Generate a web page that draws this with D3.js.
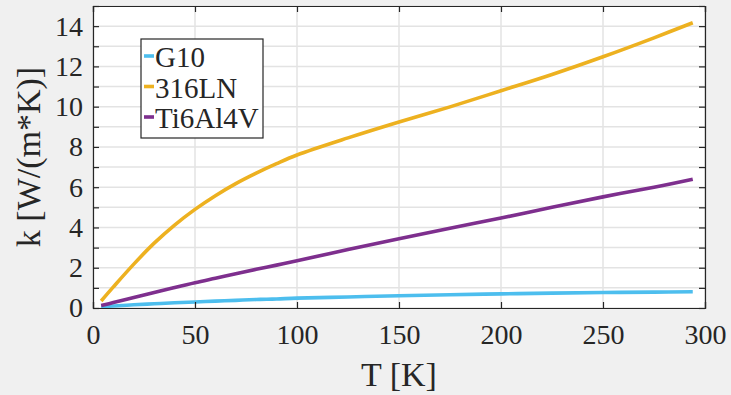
<!DOCTYPE html>
<html>
<head>
<meta charset="utf-8">
<script src="https://cdn.jsdelivr.net/npm/d3@7"></script>
<style>
  body { margin: 0; background: #f0f0f0; }
  svg { display: block; }
  text { font-family: "Liberation Serif", "Times New Roman", serif; fill: #262626; }
</style>
</head>
<body>
<div id="chart"></div>
<script>
// temperature [K]
const temps = [4, 10, 20, 30, 40, 50, 60, 70, 80, 90, 100, 125, 150, 175, 200, 225, 250, 275, 294];
// thermal conductivity [W/(m*K)]
const g10     = [0.06, 0.10, 0.16, 0.21, 0.26, 0.30, 0.34, 0.38, 0.42, 0.45, 0.49, 0.55, 0.61, 0.66, 0.70, 0.74, 0.77, 0.79, 0.81];
const ss316ln = [0.35, 1.05, 2.18, 3.22, 4.12, 4.90, 5.58, 6.18, 6.70, 7.17, 7.60, 8.45, 9.24, 9.99, 10.79, 11.60, 12.48, 13.42, 14.17];
const ti6al4v = [0.12, 0.27, 0.52, 0.77, 1.02, 1.26, 1.48, 1.70, 1.92, 2.13, 2.35, 2.90, 3.44, 3.96, 4.47, 5.00, 5.52, 6.00, 6.40];

const seriesNames = ["G10", "316LN", "Ti6Al4V"];
const seriesColors = ["#4DBEEE", "#EDB120", "#7E2F8E"];
const seriesValues = [g10, ss316ln, ti6al4v];

const xTicks = [0, 50, 100, 150, 200, 250, 300];
const yTicks = d3.range(0, 16, 1);

const width = 731, height = 395;
const margin = {top: 6, right: 26, bottom: 87, left: 93};
const w = width - margin.left - margin.right,
      h = height - margin.top - margin.bottom;

const svg = d3.select("#chart").append("svg")
  .attr("width", width)
  .attr("height", height);

svg.append("rect").attr("width", width).attr("height", height).attr("fill", "#f0f0f0");

const g = svg.append("g").attr("transform", "translate(" + margin.left + "," + margin.top + ")");

const x = d3.scaleLinear().domain([0, 300]).range([0, w]);
const y = d3.scaleLinear().domain([0, 15]).range([h, 0]);

g.append("rect").attr("width", w).attr("height", h).attr("fill", "#ffffff");

// grid
g.append("g").selectAll("line").data(xTicks).enter().append("line")
  .attr("x1", d => x(d)).attr("x2", d => x(d))
  .attr("y1", 0).attr("y2", h)
  .attr("stroke", "#dcdcdc").attr("stroke-width", 1.2);
g.append("g").selectAll("line").data(yTicks).enter().append("line")
  .attr("x1", 0).attr("x2", w)
  .attr("y1", d => y(d)).attr("y2", d => y(d))
  .attr("stroke", "#e3e3e3").attr("stroke-width", 1.5);

// lines
const line = d3.line()
  .x(d => x(d[0]))
  .y(d => y(d[1]))
  .curve(d3.curveCatmullRom.alpha(0.5));

seriesValues.forEach(function(vals, i) {
  g.append("path")
    .datum(temps.map((t, j) => [t, vals[j]]))
    .attr("d", line)
    .attr("fill", "none")
    .attr("stroke", seriesColors[i])
    .attr("stroke-width", 3.6);
});

// axes
const fontSize = 28;
const bottomAxis = d3.axisBottom(x).tickValues(xTicks).tickSize(-6).tickPadding(16);
const topAxis = d3.axisTop(x).tickValues(xTicks).tickSize(-6).tickFormat("");
const leftAxis = d3.axisLeft(y).tickValues(yTicks).tickSize(-6).tickPadding(10)
  .tickFormat(d => (d % 2 === 0 && d <= 14) ? d : "");
const rightAxis = d3.axisRight(y).tickValues(yTicks).tickSize(-6).tickFormat("");

function styleAxis(sel) {
  sel.select(".domain").attr("stroke", "#262626").attr("stroke-width", 1.2);
  sel.selectAll(".tick line").attr("stroke", "#262626").attr("stroke-width", 1.2);
  sel.selectAll(".tick text").style("font-size", fontSize + "px")
    .style("font-family", "Liberation Serif").attr("fill", "#262626");
}

g.append("g").attr("transform", "translate(0," + h + ")").call(bottomAxis).call(styleAxis);
g.append("g").call(topAxis).call(styleAxis);
g.append("g").call(leftAxis).call(styleAxis);
g.append("g").attr("transform", "translate(" + w + ",0)").call(rightAxis).call(styleAxis);

// axis labels
g.append("text")
  .attr("x", w / 2)
  .attr("y", h + 78)
  .attr("text-anchor", "middle")
  .style("font-size", "34px")
  .text("T [K]");

g.append("text")
  .attr("transform", "translate(" + (-53) + "," + (h / 2) + ") rotate(-90)")
  .attr("text-anchor", "middle")
  .style("font-size", "34px")
  .text("k [W/(m*K)]");

// legend
const legend = svg.append("g").attr("transform", "translate(141,39)");
legend.append("rect")
  .attr("width", 122).attr("height", 99)
  .attr("fill", "#ffffff")
  .attr("stroke", "#262626").attr("stroke-width", 1.2);

const items = legend.selectAll(".legends").data(seriesNames).enter().append("g")
  .classed("legends", true)
  .attr("transform", (d, i) => "translate(0," + (28 + i * 30.5) + ")");
items.append("line")
  .attr("x1", 3).attr("x2", 13).attr("y1", -11).attr("y2", -11)
  .attr("stroke", (d, i) => seriesColors[i]).attr("stroke-width", 3.6);
items.append("text")
  .attr("x", 14).attr("y", 0)
  .style("font-size", "29px")
  .text(d => d);
</script>
</body>
</html>
